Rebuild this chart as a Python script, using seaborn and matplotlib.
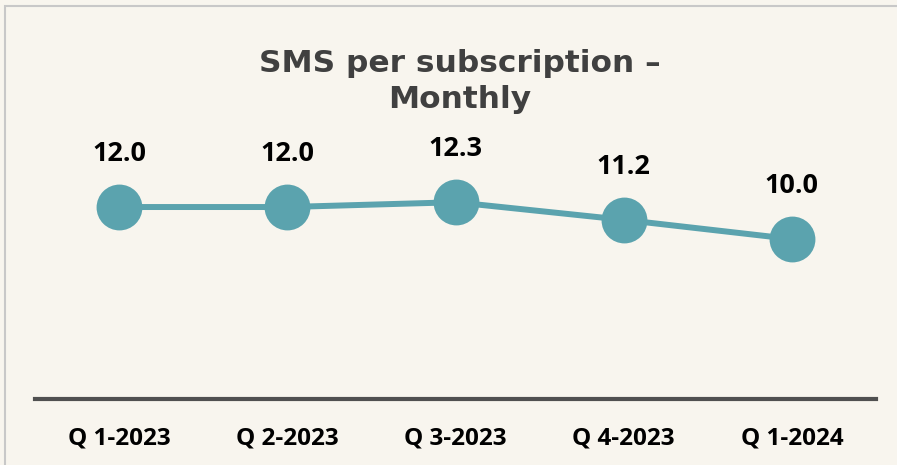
import matplotlib
matplotlib.use("Agg")
import matplotlib.pyplot as plt
import seaborn as sns
import pandas as pd
from matplotlib.patches import Rectangle

quarters = ["Q 1-2023", "Q 2-2023", "Q 3-2023", "Q 4-2023", "Q 1-2024"]
sms_values = [12.0, 12.0, 12.3, 11.2, 10.0]
title_lines = ["SMS per subscription –", "Monthly"]

bg = "#F8F5EE"
line_color = "#5BA3AE"

sns.set_theme(style="white")
plt.rcParams["font.family"] = ["Open Sans", "DejaVu Sans"]

df = pd.DataFrame({"quarter": quarters, "value": sms_values})

fig = plt.figure(figsize=(8.97, 4.65), dpi=100)
fig.patch.set_facecolor(bg)
W, H = 897, 465
ax = fig.add_axes([35 / W, (H - 399) / H, (876 - 35) / W, (399 - 100) / H])
ax.set_facecolor(bg)

sns.lineplot(data=df, x="quarter", y="value", ax=ax, color=line_color,
             linewidth=4.3, marker="o", markersize=33, markeredgewidth=0,
             sort=False)

ax.set_xlim(-0.5, 4.5)
ax.set_ylim(0, 18.69)
for i, v in enumerate(sms_values):
    ax.annotate(f"{v:.1f}", (i, v), xytext=(0, 38), textcoords="offset points",
                ha="center", va="center", fontsize=19.5, fontweight="bold",
                color="black")

for s in ["top", "right", "left"]:
    ax.spines[s].set_visible(False)
ax.spines["bottom"].set_color("#505050")
ax.spines["bottom"].set_linewidth(3)
ax.set_yticks([])
ax.set_xlabel("")
ax.set_ylabel("")
ax.tick_params(axis="x", length=0, pad=20, labelsize=17.5)
for lbl in ax.get_xticklabels():
    lbl.set_fontweight("bold")
    lbl.set_color("black")

fig.text(460 / W, 1 - 72 / H, title_lines[0], ha="center", va="baseline",
         fontsize=22.5, fontweight="bold", color="#404040",
         family=["DejaVu Sans"])
fig.text(460 / W, 1 - 108 / H, title_lines[1], ha="center", va="baseline",
         fontsize=22.5, fontweight="bold", color="#404040",
         family=["DejaVu Sans"])

fig.patches.append(Rectangle((5 / W, -0.1), 2, 1 - 6 / H + 0.1,
                             transform=fig.transFigure, fill=False,
                             edgecolor="#C8C8C8", linewidth=1.5))

fig.savefig("out.png", dpi=100, facecolor=bg)
